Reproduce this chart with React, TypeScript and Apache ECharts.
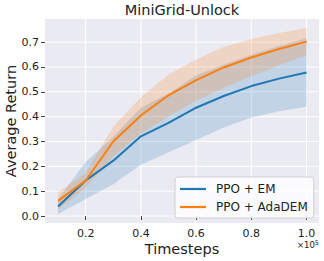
import React, { useEffect, useRef } from "react";
import * as echarts from "echarts";

const timesteps = [0.1, 0.2, 0.3, 0.4, 0.5, 0.6, 0.7, 0.8, 0.9, 1.0];
const emMean = [0.038, 0.143, 0.223, 0.321, 0.375, 0.436, 0.483, 0.523, 0.553, 0.578];
const emStd = [0.03, 0.074, 0.095, 0.115, 0.118, 0.13, 0.127, 0.126, 0.131, 0.138];
const adaMean = [0.061, 0.143, 0.3, 0.405, 0.486, 0.547, 0.598, 0.638, 0.672, 0.702];
const adaStd = [0.035, 0.03, 0.06, 0.073, 0.084, 0.083, 0.082, 0.074, 0.065, 0.055];
const xTicks = [0.2, 0.4, 0.6, 0.8, 1.0];
const yTicks = [0.0, 0.1, 0.2, 0.3, 0.4, 0.5, 0.6, 0.7];

const FONT = "DejaVu Sans";

function bandSeries(mean: number[], std: number[], color: string, z: number) {
  return {
    type: "custom",
    silent: true,
    z,
    data: [0],
    renderItem: (params: any, api: any) => {
      const upper = timesteps.map((x, i) => api.coord([x, mean[i] + std[i]]));
      const lower = timesteps.map((x, i) => api.coord([x, mean[i] - std[i]])).reverse();
      return {
        type: "polygon",
        shape: { points: upper.concat(lower) },
        style: { fill: color, stroke: "none" },
      };
    },
  };
}

export default function App() {
  const ref = useRef<HTMLDivElement>(null);
  useEffect(() => {
    if (!ref.current) return;
    const chart = echarts.init(ref.current, null, { renderer: "svg" });
    const option: any = {
      animation: false,
      backgroundColor: "#ffffff",
      grid: {
        left: 45, right: 5, top: 19, bottom: 38,
        show: true, backgroundColor: "#eaeaf2", borderWidth: 0,
        containLabel: false, outerBoundsMode: "none",
      },
      graphic: [
        {
          type: "text",
          x: 182,
          y: 2,
          style: { text: "MiniGrid-Unlock", fontSize: 14.5, fontFamily: FONT, fill: "#222", align: "center", verticalAlign: "top" },
        },
        {
          type: "text",
          x: 319,
          y: 239,
          style: {
            text: "×10{sup|5}",
            fontSize: 8.5,
            fontFamily: FONT,
            fill: "#222",
            align: "right",
            verticalAlign: "top",
            rich: { sup: { fontSize: 6.5, fontFamily: FONT, fill: "#222", verticalAlign: "top", padding: [0, 0, 4, 0] } },
          },
        },
      ],
      legend: {
        orient: "vertical",
        left: 175,
        top: 177,
        padding: [5, 6, 4, 5],
        itemGap: 4,
        itemWidth: 26,
        itemHeight: 2.2,
        icon: "rect",
        backgroundColor: "rgba(255,255,255,0.8)",
        borderColor: "#d0d0d0",
        borderWidth: 1,
        borderRadius: 3,
        textStyle: { fontSize: 12, fontFamily: FONT, color: "#222", padding: [0, 0, 0, 5], lineHeight: 14 },
        data: [{ name: "PPO + EM" }, { name: "PPO + AdaDEM" }],
      },
      xAxis: {
        type: "value",
        min: 0.0527,
        max: 1.045,
        axisLine: { show: false },
        axisTick: { show: true, customValues: xTicks, length: 4, lineStyle: { color: "#444" } },
        axisLabel: { customValues: xTicks, formatter: (v: number) => v.toFixed(1), fontSize: 11, fontFamily: FONT, color: "#222", margin: 5 },
        splitLine: { show: false },
        name: "Timesteps",
        nameLocation: "middle",
        nameGap: 18,
        nameMoveOverlap: false,
        nameTextStyle: { fontSize: 14.5, fontFamily: FONT, color: "#222" },
      },
      yAxis: {
        type: "value",
        min: -0.028,
        max: 0.793,
        axisLine: { show: false },
        axisTick: { show: true, customValues: yTicks, length: 4, lineStyle: { color: "#444" } },
        axisLabel: { customValues: yTicks, formatter: (v: number) => v.toFixed(1), fontSize: 11, fontFamily: FONT, color: "#222", margin: 6 },
        splitLine: { show: false },
        name: "Average Return",
        nameLocation: "middle",
        nameGap: 27,
        nameMoveOverlap: false,
        nameTextStyle: { fontSize: 14.5, fontFamily: FONT, color: "#222" },
      },
      series: [
        {
          type: "custom",
          silent: true,
          z: 0,
          data: [0],
          renderItem: (params: any, api: any) => {
            const children: any[] = [];
            const y0 = api.coord([0.0527, -0.028]);
            const y1 = api.coord([1.045, 0.793]);
            xTicks.forEach((x) => {
              const p = api.coord([x, 0]);
              children.push({ type: "line", shape: { x1: p[0], y1: y1[1], x2: p[0], y2: y0[1] }, style: { stroke: "#ffffff", lineWidth: 1 } });
            });
            yTicks.forEach((y) => {
              const p = api.coord([0.5, y]);
              children.push({ type: "line", shape: { x1: y0[0], y1: p[1], x2: y1[0], y2: p[1] }, style: { stroke: "#ffffff", lineWidth: 1 } });
            });
            return { type: "group", children };
          },
        },
        bandSeries(emMean, emStd, "rgba(31,119,180,0.2)", 1),
        bandSeries(adaMean, adaStd, "rgba(255,127,14,0.2)", 1),
        {
          name: "PPO + EM",
          type: "line",
          symbol: "none",
          z: 3,
          data: timesteps.map((x, i) => [x, emMean[i]]),
          lineStyle: { width: 2, color: "#1f77b4" },
          itemStyle: { color: "#1f77b4" },
        },
        {
          name: "PPO + AdaDEM",
          type: "line",
          symbol: "none",
          z: 4,
          data: timesteps.map((x, i) => [x, adaMean[i]]),
          lineStyle: { width: 2, color: "#ff7f0e" },
          itemStyle: { color: "#ff7f0e" },
        },
      ],
    };
    chart.setOption(option);
    return () => chart.dispose();
  }, []);
  return <div ref={ref} style={{ position: "fixed", left: 0, top: 0, width: 324, height: 261 }} />;
}
